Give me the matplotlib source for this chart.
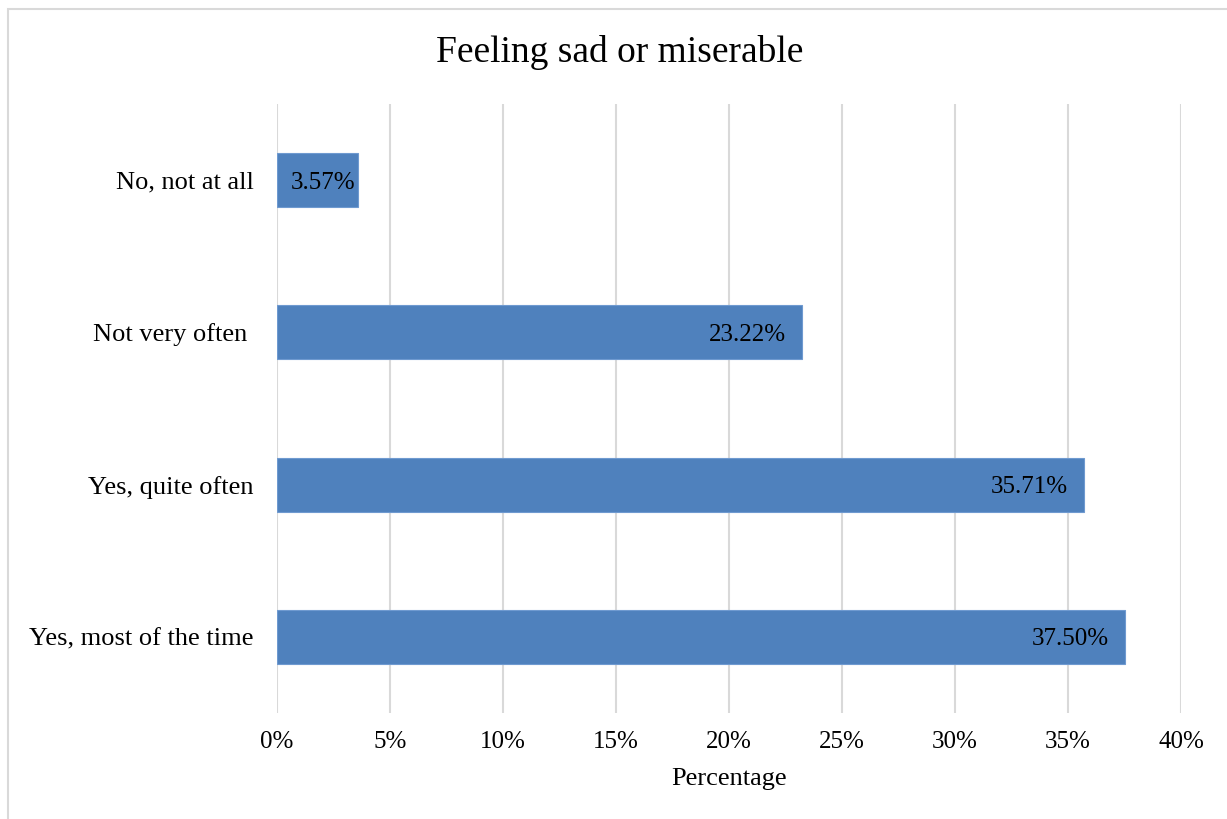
import matplotlib
matplotlib.use("Agg")
import matplotlib.pyplot as plt
from matplotlib.patches import Rectangle
from matplotlib.ticker import FuncFormatter
from matplotlib.transforms import offset_copy

plt.rcParams['font.family'] = ['Liberation Serif', 'DejaVu Serif']

categories = ["No, not at all", "Not very often ", "Yes, quite often", "Yes, most of the time"]
values = [3.57, 23.22, 35.71, 37.50]
xticks = [0, 5, 10, 15, 20, 25, 30, 35, 40]

title = "Feeling sad or miserable"
xlabel = "Percentage"
bar_color = "#4F81BD"
grid_color = "#D9D9D9"

fig = plt.figure(figsize=(12.27, 8.19), dpi=100)
fig.patch.set_facecolor("white")

# light chart-area frame
fig.add_artist(Rectangle((8 / 1227, -0.01), 1.0, 1 - 9 / 819 + 0.01,
                         transform=fig.transFigure, fill=False,
                         edgecolor=grid_color, linewidth=1.5))

ax = fig.add_axes([277 / 1227, 1 - 713 / 819, (1181 - 277) / 1227, (713 - 104) / 819])

ypos = list(range(len(categories)))
ax.barh(ypos, values, height=0.355, color=bar_color,
        edgecolor="#6F9AD0", linewidth=0.8, zorder=3)

ax.set_xlim(0, 40)
ax.set_ylim(len(categories) - 0.5, -0.5)
ax.set_yticks(ypos)
ax.set_yticklabels(categories, fontsize=19)
ax.set_xticks(xticks)
ax.xaxis.set_major_formatter(FuncFormatter(lambda v, p: f"{v:.0f}%"))
ax.tick_params(axis='x', labelsize=18, length=0, pad=13)
ax.tick_params(axis='y', length=0, pad=17)
ax.grid(axis='x', color=grid_color, linewidth=1.5, zorder=0)
ax.set_axisbelow(True)
for s in ax.spines.values():
    s.set_visible(False)

ax.set_xlabel(xlabel, fontsize=19, labelpad=11)
fig.text(0.505, 1 - 52 / 819, title, ha='center', va='center', fontsize=27)

# value labels at the inner end of each bar
for y, v in zip(ypos, values):
    if v < 5:
        tr = offset_copy(ax.transData, fig=fig, x=-2, y=0, units='dots')
    else:
        tr = offset_copy(ax.transData, fig=fig, x=-16, y=0, units='dots')
    ax.text(v, y, f"{v:.2f}%", ha='right', va='center_baseline', fontsize=18,
            transform=tr, zorder=4)

fig.savefig("out.png", dpi=100, facecolor="white")
